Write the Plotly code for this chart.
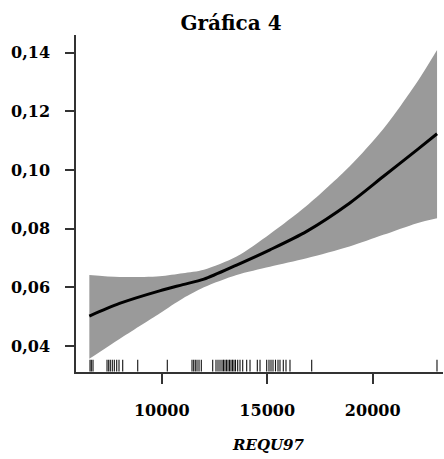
import plotly.graph_objects as go

# ---- data ----
x_fit = [6570, 8000, 9900, 11000, 12000, 13550, 15130, 16870, 18900, 20500, 22100, 23050]
y_fit = [0.0502, 0.0545, 0.0588, 0.0609, 0.0628, 0.0676, 0.0728, 0.0791, 0.0887, 0.0978, 0.1069, 0.1124]
y_upper = [0.0642, 0.0635, 0.0638, 0.0648, 0.0660, 0.0705, 0.0782, 0.0878, 0.1012, 0.1140, 0.1300, 0.1410]
y_lower = [0.0356, 0.0424, 0.0511, 0.0562, 0.0600, 0.0642, 0.0670, 0.0699, 0.0739, 0.0779, 0.0819, 0.0836]

rug_x = [6602, 6664, 6744, 7408, 7488, 7564, 7659, 7754, 7867, 7976, 8152, 8863, 10265,
         11436, 11516, 11592, 11673, 11768, 11877, 12417, 12573, 12668, 12763, 12858, 12929,
         13000, 13071, 13142, 13213, 13284, 13355, 13426, 13497, 13602, 13711, 13839, 14028,
         14185, 14531, 14659, 14976, 15085, 15180, 15275, 15393, 15512, 15606, 15763, 15891,
         16080, 17109, 23047]
rug_y = [0.0313, 0.0353]

y_ticks = [0.04, 0.06, 0.08, 0.10, 0.12, 0.14]
x_ticks = [10000, 15000, 20000]

title_text = "Gráfica 4"
x_title = "REQU97"

# ---- build figure ----
font_family = "DejaVu Serif"
fig = go.Figure()

fig.add_trace(go.Scatter(x=x_fit, y=y_lower, mode="lines",
                         line=dict(width=0, color="#9a9a9a", shape="spline", smoothing=0.8),
                         hoverinfo="skip", showlegend=False))
fig.add_trace(go.Scatter(x=x_fit, y=y_upper, mode="lines", fill="tonexty",
                         fillcolor="#9a9a9a",
                         line=dict(width=0, color="#9a9a9a", shape="spline", smoothing=0.8),
                         hoverinfo="skip", showlegend=False))
fig.add_trace(go.Scatter(x=x_fit, y=y_fit, mode="lines",
                         line=dict(color="black", width=3, shape="spline", smoothing=0.8),
                         showlegend=False))

rx, ry = [], []
for v in rug_x:
    rx += [v, v, None]
    ry += [rug_y[0], rug_y[1], None]
fig.add_trace(go.Scatter(x=rx, y=ry, mode="lines",
                         line=dict(color="#111111", width=1.1), showlegend=False))

fig.update_layout(
    width=444, height=459,
    margin=dict(l=76, r=1, t=35, b=87),
    paper_bgcolor="white", plot_bgcolor="white",
    separators=", ",
    font=dict(family=font_family, color="black"),
    title=dict(text="<b>" + title_text + "</b>", x=231/444, xanchor="center",
               y=1 - 23/459, yanchor="middle", yref="container",
               font=dict(size=20, family=font_family, color="black")),
    xaxis=dict(range=[5938, 23332], tickvals=x_ticks, tickformat="d",
               showline=True, linecolor="#333333", linewidth=1.5,
               ticks="outside", ticklen=10, tickwidth=1.5, tickcolor="#333333",
               showgrid=False, zeroline=False, ticklabelstandoff=13,
               tickfont=dict(size=16, family=font_family, color="black", weight="bold")),
    yaxis=dict(range=[0.0311, 0.1461], tickvals=y_ticks, tickformat=".2f",
               showline=True, linecolor="#333333", linewidth=1.5,
               ticks="outside", ticklen=9, tickwidth=1.5, tickcolor="#333333",
               showgrid=False, zeroline=False, ticklabelstandoff=12,
               tickfont=dict(size=16, family=font_family, color="black", weight="bold")),
    annotations=[dict(text="<b><i>" + x_title + "</i></b>", xref="paper", yref="paper",
                      x=(268 - 76) / 367, y=0, xanchor="center", yanchor="middle",
                      yshift=-73, showarrow=False,
                      font=dict(size=15, family=font_family, color="black"))],
)

fig.write_html("out.html")
